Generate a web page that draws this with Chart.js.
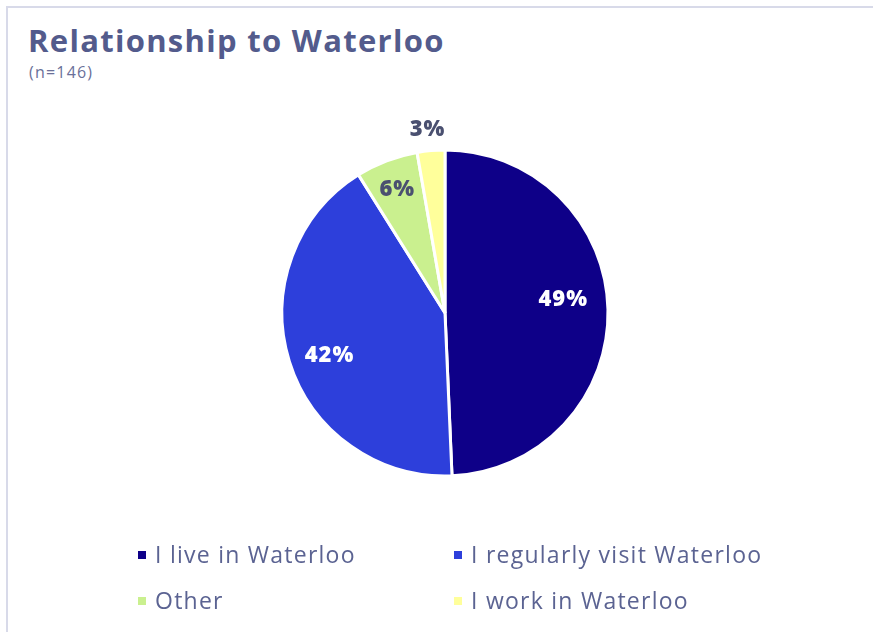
<!DOCTYPE html>
<html>
<head>
<meta charset="utf-8">
<script src="https://cdn.jsdelivr.net/npm/chart.js@4.4.0/dist/chart.umd.min.js"></script>
<style>
  html, body { margin:0; padding:0; background:#fff; }
  body { width:873px; height:632px; position:relative; overflow:hidden; font-family:"Open Sans", sans-serif; }
  #frame { position:absolute; left:6px; top:6px; width:870px; height:630px; border-top:2px solid #d8dae9; border-left:2px solid #d8dae9; box-sizing:border-box; }
  #title { position:absolute; left:28px; top:19px; font-size:31px; font-weight:700; color:#535b8c; letter-spacing:1.3px; white-space:nowrap; }
  #sub { position:absolute; left:29px; top:61px; font-size:16px; color:#6a7099; letter-spacing:1.2px; }
  #wrap { position:absolute; left:0; top:0; width:873px; height:632px; }
  #legend { position:absolute; left:0; top:0; }
  .li { position:absolute; font-size:23px; color:#5b6392; white-space:nowrap; line-height:26px; letter-spacing:1.25px; }
  .li span.box { position:absolute; left:-17px; top:10px; width:8px; height:8px; }
</style>
</head>
<body>
<div id="frame"></div>
<div id="title">Relationship to Waterloo</div>
<div id="sub">(n=146)</div>
<div id="wrap"><canvas id="c" width="873" height="632"></canvas></div>
<div id="legend"></div>
<script>
const categories = ["I live in Waterloo", "I regularly visit Waterloo", "Other", "I work in Waterloo"];
const counts = [72, 61, 9, 4];
const percentLabels = ["49%", "42%", "6%", "3%"];
const colors = ["#0e0088", "#2d3fdb", "#caf08f", "#ffff9b"];
const labelColors = ["#ffffff", "#ffffff", "#4a5070", "#4a5070"];

// label anchor: fraction of the slice angle, fraction of the radius
const labelAngleFrac = [0.47, 0.48, 0.49, 0.45];
const labelRadiusFrac = [0.73, 0.755, 0.81, 1.13];

const labelPlugin = {
  id: 'sliceLabels',
  afterDatasetsDraw(chart) {
    const ctx = chart.ctx;
    const meta = chart.getDatasetMeta(0);
    ctx.save();
    ctx.font = "800 22px 'Open Sans', sans-serif";
    try { ctx.letterSpacing = '1px'; } catch (e) {}
    ctx.textAlign = 'center';
    ctx.textBaseline = 'middle';
    meta.data.forEach((arc, i) => {
      const a = arc.startAngle + (arc.endAngle - arc.startAngle) * labelAngleFrac[i];
      const r = arc.outerRadius * labelRadiusFrac[i];
      const x = arc.x + Math.cos(a) * r;
      const y = arc.y + Math.sin(a) * r;
      ctx.fillStyle = labelColors[i];
      ctx.fillText(percentLabels[i], x, y);
    });
    ctx.restore();
  }
};

const chart = new Chart(document.getElementById('c'), {
  type: 'pie',
  data: {
    labels: categories,
    datasets: [{
      data: counts,
      backgroundColor: colors,
      borderColor: '#ffffff',
      borderWidth: 3
    }]
  },
  options: {
    responsive: false,
    animation: false,
    radius: 163,
    layout: { padding: { left: 200, right: 183, top: 120, bottom: 126 } },
    plugins: { legend: { display: false }, tooltip: { enabled: false } }
  },
  plugins: [labelPlugin]
});

// HTML legend built from the chart's own legend items
const items = chart.options.plugins.legend.labels.generateLabels(chart);
const pos = [[155, 541], [471, 541], [155, 587], [471, 587]];
const legend = document.getElementById('legend');
items.forEach((it, i) => {
  const d = document.createElement('div');
  d.className = 'li';
  d.style.left = pos[i][0] + 'px';
  d.style.top = pos[i][1] + 'px';
  const b = document.createElement('span');
  b.className = 'box';
  b.style.background = it.fillStyle;
  d.appendChild(b);
  d.appendChild(document.createTextNode(it.text));
  legend.appendChild(d);
});
</script>
</body>
</html>
